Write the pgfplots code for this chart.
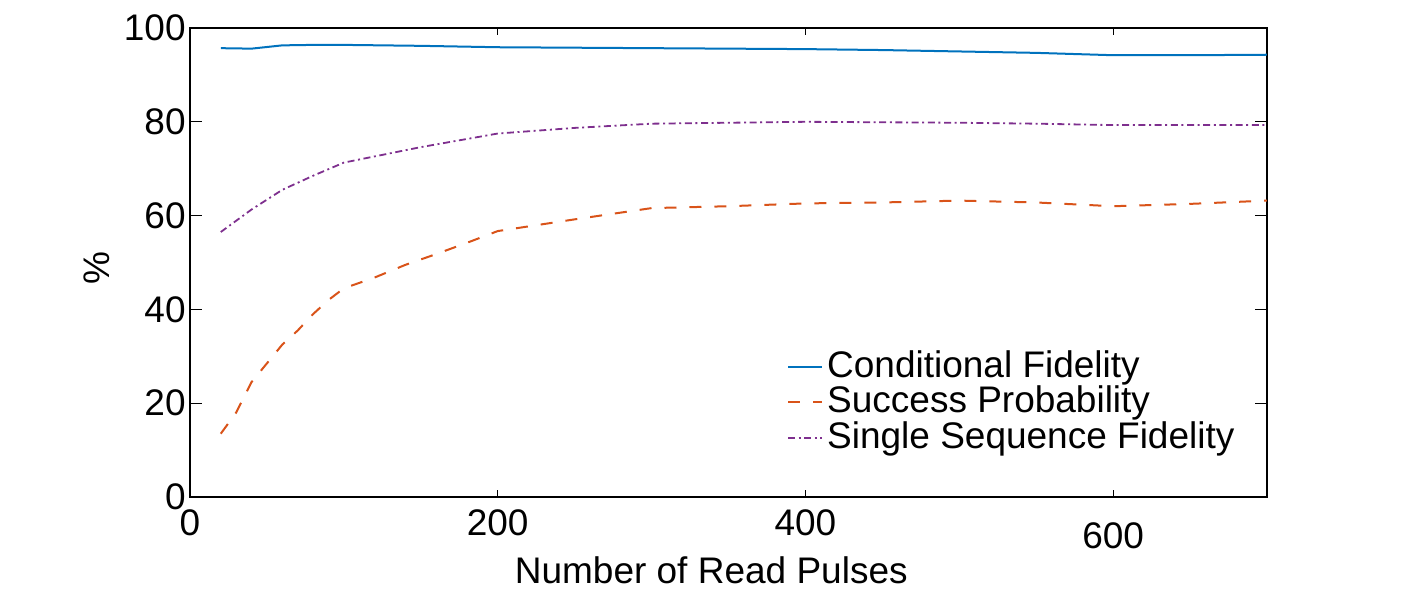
\documentclass[border=0pt]{standalone}
\usepackage{pgfplots}
\pgfplotsset{compat=1.18}
\usepackage{fontspec}
\setmainfont{Liberation Sans}
\definecolor{mblue}{RGB}{0,114,189}
\definecolor{morange}{RGB}{217,83,25}
\definecolor{mpurple}{RGB}{126,47,142}
\begin{document}
\fontsize{18.5}{22}\selectfont
\begin{tikzpicture}
\path[use as bounding box] (-95pt,-47pt) rectangle (614pt,248.5pt);
\begin{axis}[
  at={(0,0)}, anchor=south west,
  scale only axis, width=538.5pt, height=234.5pt,
  xmin=0, xmax=700, ymin=0, ymax=100,
  xtick={0,200,400,600},
  xticklabels={0,200,400,{\raisebox{-6.5pt}[\height][0pt]{600}}},
  ytick={0,20,40,60,80,100},
  tick align=inside,
  major tick length=6pt,
  xtick style={/pgfplots/major tick length=3.5pt},
  tick style={black, line width=0.6pt},
  axis line style={black, line width=0.7pt},
  /pgf/number format/assume math mode=true,
  yticklabel style={inner sep=2pt},
  xlabel={Number of Read Pulses},
  ylabel={\%},
  every axis x label/.style={at={(axis description cs:0.484,-0.156)}, anchor=center},
  every axis y label/.style={at={(axis description cs:-0.0864,0.488)}, rotate=90, anchor=center},
  legend style={at={(axis description cs:0.554,0.3166)}, anchor=north west,
    draw=none, fill=none, inner sep=0pt,
    nodes={inner xsep=2pt, inner ysep=0.8pt}},
  legend cell align=left,
]
\addplot[mblue, line width=1pt] coordinates {
(20,95.7)(40,95.6)(60,96.3)(80,96.4)(100,96.4)(150,96.2)(200,95.9)(250,95.8)(300,95.7)(350,95.6)(400,95.5)(450,95.3)(500,95.0)(550,94.7)(600,94.2)(650,94.2)(700,94.3)
};
\addlegendentry{Conditional Fidelity}
\addplot[morange, line width=1pt, dash pattern=on 6pt off 6.5pt] coordinates {
(20,13.5)(30,18)(40,24.5)(50,28.5)(60,32.5)(70,35.5)(80,39)(90,42)(100,44.5)(120,46.8)(140,49.5)(160,51.8)(180,54.2)(200,56.7)(250,59.2)(300,61.6)(350,62.0)(400,62.6)(450,62.8)(500,63.2)(550,62.8)(600,62.0)(650,62.5)(700,63.2)
};
\addlegendentry{Success Probability}
\addplot[mpurple, line width=0.9pt, dash pattern=on 3.5pt off 1.8pt on 1pt off 1.8pt] coordinates {
(20,56.5)(40,61.3)(60,65.5)(80,68.5)(100,71.3)(150,74.6)(200,77.5)(250,78.7)(300,79.6)(350,79.8)(400,80.0)(450,79.9)(500,79.8)(550,79.6)(600,79.3)(650,79.3)(700,79.3)
};
\addlegendentry{Single Sequence Fidelity}
\end{axis}
\end{tikzpicture}
\end{document}
